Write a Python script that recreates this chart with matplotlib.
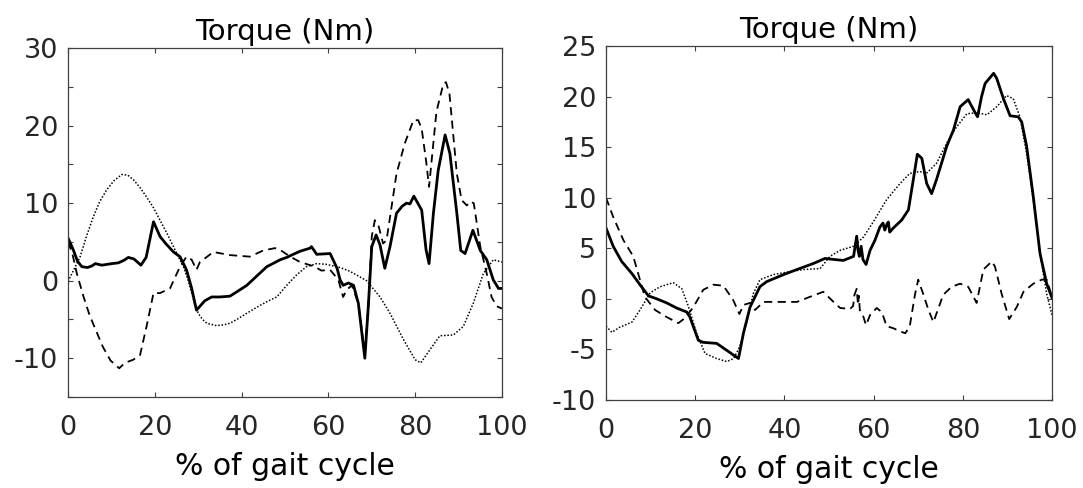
import numpy as np
import matplotlib
matplotlib.use('Agg')
import matplotlib.pyplot as plt

plt.rcParams['font.family'] = ['DejaVu Sans']
plt.rcParams['axes.unicode_minus'] = False

# left panel: % gait cycle / torque (Nm)
l_solid_x = [0, 1.2, 2.2, 3.2, 4.5, 5.5, 6.3, 7.8, 10.1, 11.6, 12.8, 13.9, 15.2, 16.8, 18.0, 19.7,
             21.2, 22.5, 24.3, 25.8, 27.3, 28.5, 29.6, 30.4, 31.5, 33.1, 35.0, 37.3, 39.0, 41.2,
             43.5, 45.8, 48.9, 50.4, 51.9, 53.5, 55.8, 56.1, 57.3, 60.4, 62.0, 62.7, 63.4, 64.6,
             65.8, 66.9, 68.4, 69.2, 70.0, 71.0, 71.9, 73.0, 74.2, 75.7, 77.0, 78.0, 78.8, 79.7,
             81.5, 82.5, 83.2, 84.2, 85.3, 86.9, 88.0, 89.6, 90.5, 91.5, 93.3, 95.0, 96.5, 98.0,
             99.2, 100]
l_solid_y = [5.5, 4.0, 2.5, 1.8, 1.7, 1.9, 2.2, 2.0, 2.2, 2.3, 2.6, 3.0, 2.8, 2.0, 3.0, 7.6,
             5.7, 4.8, 3.7, 3.1, 1.4, -1.0, -3.8, -3.3, -2.6, -2.1, -2.1, -2.0, -1.4, -0.6,
             0.6, 1.8, 2.7, 3.0, 3.4, 3.8, 4.2, 4.4, 3.4, 3.5, 1.6, 0.1, -0.6, -0.3,
             -0.6, -2.9, -10.0, -3.3, 4.4, 5.9, 4.6, 1.6, 4.4, 8.7, 9.6, 10.0, 9.9, 10.9,
             9.1, 4.0, 2.2, 8.7, 14.2, 18.8, 16.4, 8.7, 3.9, 3.5, 6.5, 3.9, 2.7, 0.1,
             -1.0, -1.0]

l_dash_x = [0, 1.0, 2.0, 3.6, 5.0, 6.5, 8.0, 9.8, 11.8, 13.1, 15.0, 16.6, 18.1, 19.7, 21.2, 23.5,
            25.8, 27.3, 28.5, 29.6, 30.4, 33.5, 37.3, 41.9, 45.0, 47.7, 48.8, 51.2, 53.5, 55.8,
            56.9, 58.4, 60.4, 62.3, 63.4, 64.2, 65.4, 66.9, 68.4, 69.2, 70.0, 70.7, 71.5, 72.6,
            73.4, 75.7, 77.6, 79.6, 80.7, 81.5, 82.5, 83.2, 84.9, 86.5, 87.1, 87.9, 89.6, 90.7,
            91.9, 92.6, 93.5, 95.0, 96.5, 97.6, 98.8, 100]
l_dash_y = [5.0, 3.5, 1.0, -2.1, -4.5, -6.5, -8.5, -10.3, -11.3, -10.6, -10.2, -9.6, -5.9, -1.6, -1.6, -1.0,
            1.8, 3.1, 2.7, 1.4, 2.4, 3.7, 3.3, 3.1, 3.9, 4.2, 4.0, 3.1, 2.4, 2.0,
            1.8, 1.3, 1.4, 0.1, -2.1, -1.2, -0.6, -2.9, -9.5, -3.3, 5.7, 7.8, 7.2, 4.8,
            5.2, 13.8, 17.7, 20.7, 20.7, 19.6, 15.5, 12.1, 21.8, 25.4, 25.6, 24.1, 13.8, 10.4,
            9.7, 10.2, 10.0, 4.4, 0.9, -2.1, -3.3, -3.6]

l_dot_x = [0, 1.5, 2.8, 4.3, 5.8, 7.3, 8.9, 10.6, 12.4, 13.8, 15.1, 16.6, 18.1, 19.7, 21.2, 22.8,
           24.3, 25.5, 26.6, 27.6, 28.5, 29.2, 30.0, 31.0, 32.0, 34.2, 35.8, 37.3, 39.2, 41.2,
           44.2, 46.2, 48.1, 50.4, 52.6, 54.9, 57.3, 59.6, 62.7, 65.0, 68.8, 71.9, 74.2, 77.3,
           80.0, 81.3, 83.4, 85.7, 88.8, 91.1, 93.4, 95.7, 98.0, 100]
l_dot_y = [-0.1, 1.6, 3.1, 5.8, 8.2, 10.2, 11.7, 12.9, 13.7, 13.6, 13.0, 12.0, 10.8, 9.4, 7.8, 6.1,
           4.4, 3.0, 1.8, 0.2, -1.6, -3.0, -4.2, -5.0, -5.5, -5.8, -5.7, -5.5, -4.9, -4.2,
           -3.2, -2.6, -2.1, -0.6, 0.7, 1.8, 2.2, 2.1, 1.7, 1.2, 0.0, -2.1, -4.2, -7.6,
           -10.2, -10.6, -8.9, -7.1, -7.0, -5.9, -2.9, 0.9, 2.7, 2.4]

# right panel
r_solid_x = [0, 1.6, 3.5, 5.8, 7.6, 9.5, 11.4, 13.6, 15.8, 18.1, 18.8, 20.7, 21.8, 24.8, 27.1, 29.7,
             30.8, 32.3, 34.5, 36.0, 39.8, 42.8, 46.5, 49.1, 51.0, 53.2, 55.5, 56.2, 56.5, 56.8,
             57.2, 57.6, 58.3, 59.2, 60.3, 61.4, 62.1, 62.5, 63.0, 63.3, 63.6, 64.4, 66.3, 67.8,
             68.9, 69.8, 70.8, 71.9, 73.0, 74.1, 76.4, 77.9, 79.4, 81.2, 82.4, 83.3, 84.2, 85.0,
             86.9, 87.6, 89.1, 90.6, 92.4, 93.2, 94.3, 95.8, 97.3, 98.8, 100]
r_solid_y = [7.0, 5.2, 3.7, 2.5, 1.4, 0.3, 0.0, -0.4, -0.9, -1.3, -1.8, -4.1, -4.3, -4.4, -5.1, -5.9,
             -3.4, -0.8, 1.2, 1.7, 2.4, 2.9, 3.5, 4.0, 3.9, 3.8, 4.2, 6.2, 4.8, 4.2,
             5.2, 3.9, 3.4, 4.8, 5.8, 7.1, 7.5, 6.8, 7.4, 7.6, 6.6, 7.0, 7.8, 8.8,
             11.8, 14.3, 13.9, 11.4, 10.4, 11.8, 15.1, 16.7, 19.0, 19.7, 18.7, 18.0, 20.0, 21.3,
             22.3, 21.8, 19.8, 18.1, 18.0, 17.5, 15.1, 10.1, 4.5, 1.5, 0.1]

r_dash_x = [0, 1.6, 3.9, 6.1, 8.7, 11.0, 13.6, 16.2, 17.7, 19.6, 21.8, 24.1, 26.3, 28.5, 29.9, 30.8,
            32.3, 33.4, 35.3, 38.3, 42.8, 45.7, 48.7, 51.0, 52.5, 54.7, 55.4, 55.7, 56.2, 56.5,
            56.7, 56.9, 57.5, 58.3, 59.2, 60.7, 61.8, 62.3, 62.9, 64.4, 65.9, 67.1, 68.1, 69.3,
            70.0, 71.1, 72.3, 73.4, 75.6, 77.5, 79.4, 81.2, 83.1, 84.6, 86.5, 87.2, 88.7, 90.4,
            92.1, 93.6, 95.8, 97.7, 98.8, 100]
r_dash_y = [10.0, 8.1, 5.8, 4.2, 0.2, -1.1, -1.8, -2.4, -1.9, -0.8, 0.9, 1.4, 1.3, -0.1, -1.5, -0.6,
            -0.4, -1.1, -0.3, -0.3, -0.3, 0.2, 0.7, -0.3, -0.9, -1.0, -0.7, 0.4, 1.0, -0.6,
            0.3, -1.1, -1.5, -2.6, -1.6, -0.9, -1.3, -1.9, -2.7, -2.9, -3.2, -3.4, -2.7, 0.5,
            1.9, 0.5, -1.1, -2.3, 0.4, 1.2, 1.5, 1.2, -0.4, 2.9, 3.7, 3.2, 0.5, -2.0,
            -0.8, 0.7, 1.5, 1.9, 1.9, 0.2]

r_dot_x = [0, 1.3, 3.1, 5.8, 7.6, 9.9, 12.1, 15.1, 17.0, 18.5, 20.3, 22.2, 24.8, 27.1, 28.6, 30.0,
           31.5, 33.0, 34.5, 37.5, 41.3, 44.2, 48.0, 50.2, 52.5, 55.5, 57.7, 59.9, 62.9, 65.9,
           68.1, 70.3, 71.8, 74.1, 76.4, 78.6, 80.9, 83.1, 85.4, 87.6, 89.8, 91.3, 92.8, 94.3,
           95.8, 97.3, 98.8, 100]
r_dot_y = [-2.7, -3.3, -2.8, -2.3, -1.1, 0.6, 1.2, 1.6, 1.0, -0.8, -3.4, -5.4, -5.9, -6.2, -5.9, -4.7,
           -2.4, 0.5, 1.9, 2.4, 2.7, 2.9, 3.0, 4.2, 4.8, 5.2, 6.1, 7.6, 9.8, 11.4,
           12.4, 12.6, 12.4, 13.4, 15.4, 17.0, 18.3, 18.4, 18.2, 19.0, 20.1, 19.8, 18.0, 14.4,
           9.8, 4.5, 0.5, -1.6]

x_ticks = [0, 20, 40, 60, 80, 100]
l_yticks = [-15, -10, -5, 0, 5, 10, 15, 20, 25, 30]
l_ylabels = ['', '-10', '', '0', '', '10', '', '20', '', '30']
r_yticks = [-10, -5, 0, 5, 10, 15, 20, 25]

fig = plt.figure(figsize=(10.83, 4.88), dpi=100)
ax1 = fig.add_axes([0.0628, 0.1865, 0.4007, 0.715])
ax2 = fig.add_axes([0.5596, 0.1803, 0.4118, 0.7254])

panels = [
    (ax1, (l_solid_x, l_solid_y), (l_dash_x, l_dash_y), (l_dot_x, l_dot_y), (-15, 30), l_yticks, l_ylabels),
    (ax2, (r_solid_x, r_solid_y), (r_dash_x, r_dash_y), (r_dot_x, r_dot_y), (-10, 25), r_yticks,
     [str(t) for t in r_yticks]),
]

for ax, sol, das, dot, ylim, yt, yl in panels:
    ax.plot(dot[0], dot[1], color='black', lw=1.1, linestyle=(0, (1, 1.2)))
    ax.plot(das[0], das[1], color='black', lw=1.3, linestyle=(0, (4.5, 3)))
    ax.plot(sol[0], sol[1], color='black', lw=2.0)
    ax.set_xlim(0, 100)
    ax.set_ylim(*ylim)
    ax.set_xticks(x_ticks)
    ax.set_yticks(yt)
    ax.set_yticklabels(yl)
    ax.tick_params(direction='in', length=3.5, width=0.8, top=True, right=True,
                   labelsize=19.5, labelcolor='#262626', color='#404040')
    ax.tick_params(axis='x', pad=13)
    ax.tick_params(axis='y', pad=7)
    for s in ax.spines.values():
        s.set_color('#404040')
        s.set_linewidth(0.9)
    ax.set_title('Torque (Nm)', fontsize=21, pad=6)
    ax.set_xlabel('% of gait cycle', fontsize=21.5, labelpad=8)

fig.savefig('out.png', dpi=100)
